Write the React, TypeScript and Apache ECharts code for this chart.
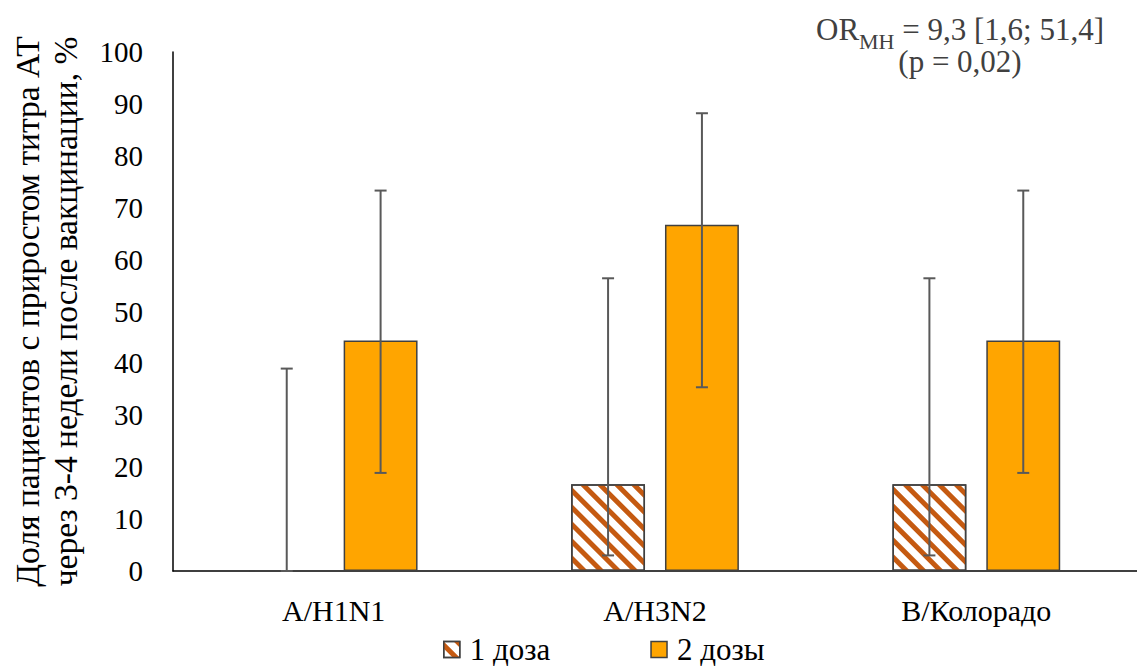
import React, { useEffect, useRef } from "react";
import * as echarts from "echarts";

const categories = ["A/H1N1", "A/H3N2", "B/Колорадо"];
const seriesNames = ["1 доза", "2 дозы"];
const dose1 = [0, 16.7, 16.7];
const dose1Low = [0, 3.0, 3.0];
const dose1High = [39.0, 56.4, 56.4];
const dose2 = [44.4, 66.7, 44.4];
const dose2Low = [18.9, 35.4, 18.9];
const dose2High = [73.3, 88.2, 73.3];
const yTicks = [0, 10, 20, 30, 40, 50, 60, 70, 80, 90, 100];

const BAR_W = 0.23;
const BAR_GAP = 0.27;

function errorSeries(idx: number, low: number[], high: number[]) {
  const data = categories.map((_, i) => [i, low[i], high[i]]);
  return {
    type: "custom",
    name: "err" + idx,
    data,
    z: 10,
    silent: true,
    encode: { x: 0, y: [1, 2] },
    renderItem: (params: any, api: any) => {
      const ci = api.value(0);
      const lo = api.coord([ci, api.value(1)]);
      const hi = api.coord([ci, api.value(2)]);
      const band = api.size([1, 0])[0];
      const off = ((BAR_W + BAR_W * BAR_GAP) / 2) * band;
      const x = lo[0] + (idx === 0 ? -off : off);
      const cap = 6;
      const style = { stroke: "#595959", lineWidth: 2 };
      return {
        type: "group",
        children: [
          { type: "line", shape: { x1: x, y1: lo[1], x2: x, y2: hi[1] }, style },
          { type: "line", shape: { x1: x - cap, y1: lo[1], x2: x + cap, y2: lo[1] }, style },
          { type: "line", shape: { x1: x - cap, y1: hi[1], x2: x + cap, y2: hi[1] }, style },
        ],
      };
    },
  };
}

export default function App() {
  const ref = useRef<HTMLDivElement>(null);
  useEffect(() => {
    if (!ref.current) return;
    const chart = echarts.init(ref.current, null, { renderer: "svg" });
    const font = "Liberation Serif";
    chart.setOption({
      animation: false,
      textStyle: { fontFamily: font },
      grid: { left: 173, right: 0, top: 52, bottom: 97 },
      legend: {
        bottom: 3,
        left: 443,
        padding: 0,
        itemGap: 100,
        itemWidth: 16,
        itemHeight: 16,
        icon: "rect",
        data: seriesNames,
        itemStyle: { borderColor: "#404040", borderWidth: 1.5 },
        textStyle: { fontFamily: font, fontSize: 31, color: "#000", padding: [0, 0, 0, 5] },
      },
      xAxis: {
        type: "category",
        data: categories,
        axisLine: { lineStyle: { color: "#000", width: 1.5 } },
        axisTick: { show: false },
        axisLabel: { fontFamily: font, fontSize: 30, color: "#000", margin: 24 },
      },
      yAxis: {
        type: "value",
        min: 0,
        max: 100,
        interval: 10,
        splitLine: { show: false },
        axisLine: { show: true, lineStyle: { color: "#000", width: 1.5 } },
        axisTick: { show: false },
        axisLabel: {
          fontFamily: font,
          fontSize: 29,
          color: "#000",
          margin: 30,
          formatter: (v: number) => (yTicks.includes(v) ? String(v) : ""),
        },
        name: "Доля пациентов с приростом титра АТ\nчерез 3-4 недели после вакцинации, %",
        nameLocation: "middle",
        nameGap: 89,
        nameTextStyle: { fontFamily: font, fontSize: 33.5, color: "#000", lineHeight: 38 },
      },
      graphic: [
        {
          type: "text",
          x: 960,
          y: 9,
          style: {
            text: "{a|OR}{b|MH}{a| = 9,3 [1,6; 51,4]}",
            fill: "#404040",
            align: "center",
            verticalAlign: "top",
            rich: {
              a: { fontFamily: font, fontSize: 31, fill: "#404040", lineHeight: 36, verticalAlign: "bottom" },
              b: { fontFamily: font, fontSize: 22, fill: "#404040", lineHeight: 36, verticalAlign: "bottom", padding: [0, 0, -7, 0] },
            },
          },
        },
        {
          type: "text",
          x: 960,
          y: 46,
          style: {
            text: "(p = 0,02)",
            fill: "#404040",
            align: "center",
            verticalAlign: "top",
            fontFamily: font,
            fontSize: 31,
          },
        },
      ],
      series: [
        {
          type: "bar",
          name: seriesNames[0],
          data: dose1,
          barWidth: BAR_W * 100 + "%",
          barGap: BAR_GAP * 100 + "%",
          itemStyle: {
            color: "#ffffff",
            borderColor: "#404040",
            borderWidth: 1.5,
            decal: {
              symbol: "rect",
              symbolSize: 1,
              color: "#c55a11",
              backgroundColor: "#ffffff",
              dashArrayX: [1, 0],
              dashArrayY: [5, 7],
              rotation: Math.PI / 4,
            },
          },
        },
        {
          type: "bar",
          name: seriesNames[1],
          data: dose2,
          barWidth: BAR_W * 100 + "%",
          barGap: BAR_GAP * 100 + "%",
          itemStyle: { color: "#ffa500", borderColor: "#404040", borderWidth: 1.5 },
        },
        errorSeries(0, dose1Low, dose1High),
        errorSeries(1, dose2Low, dose2High),
      ],
    });
    return () => chart.dispose();
  }, []);
  return (
    <div
      ref={ref}
      style={{ position: "fixed", left: 0, top: 0, width: 1137, height: 668, background: "#fff" }}
    />
  );
}
